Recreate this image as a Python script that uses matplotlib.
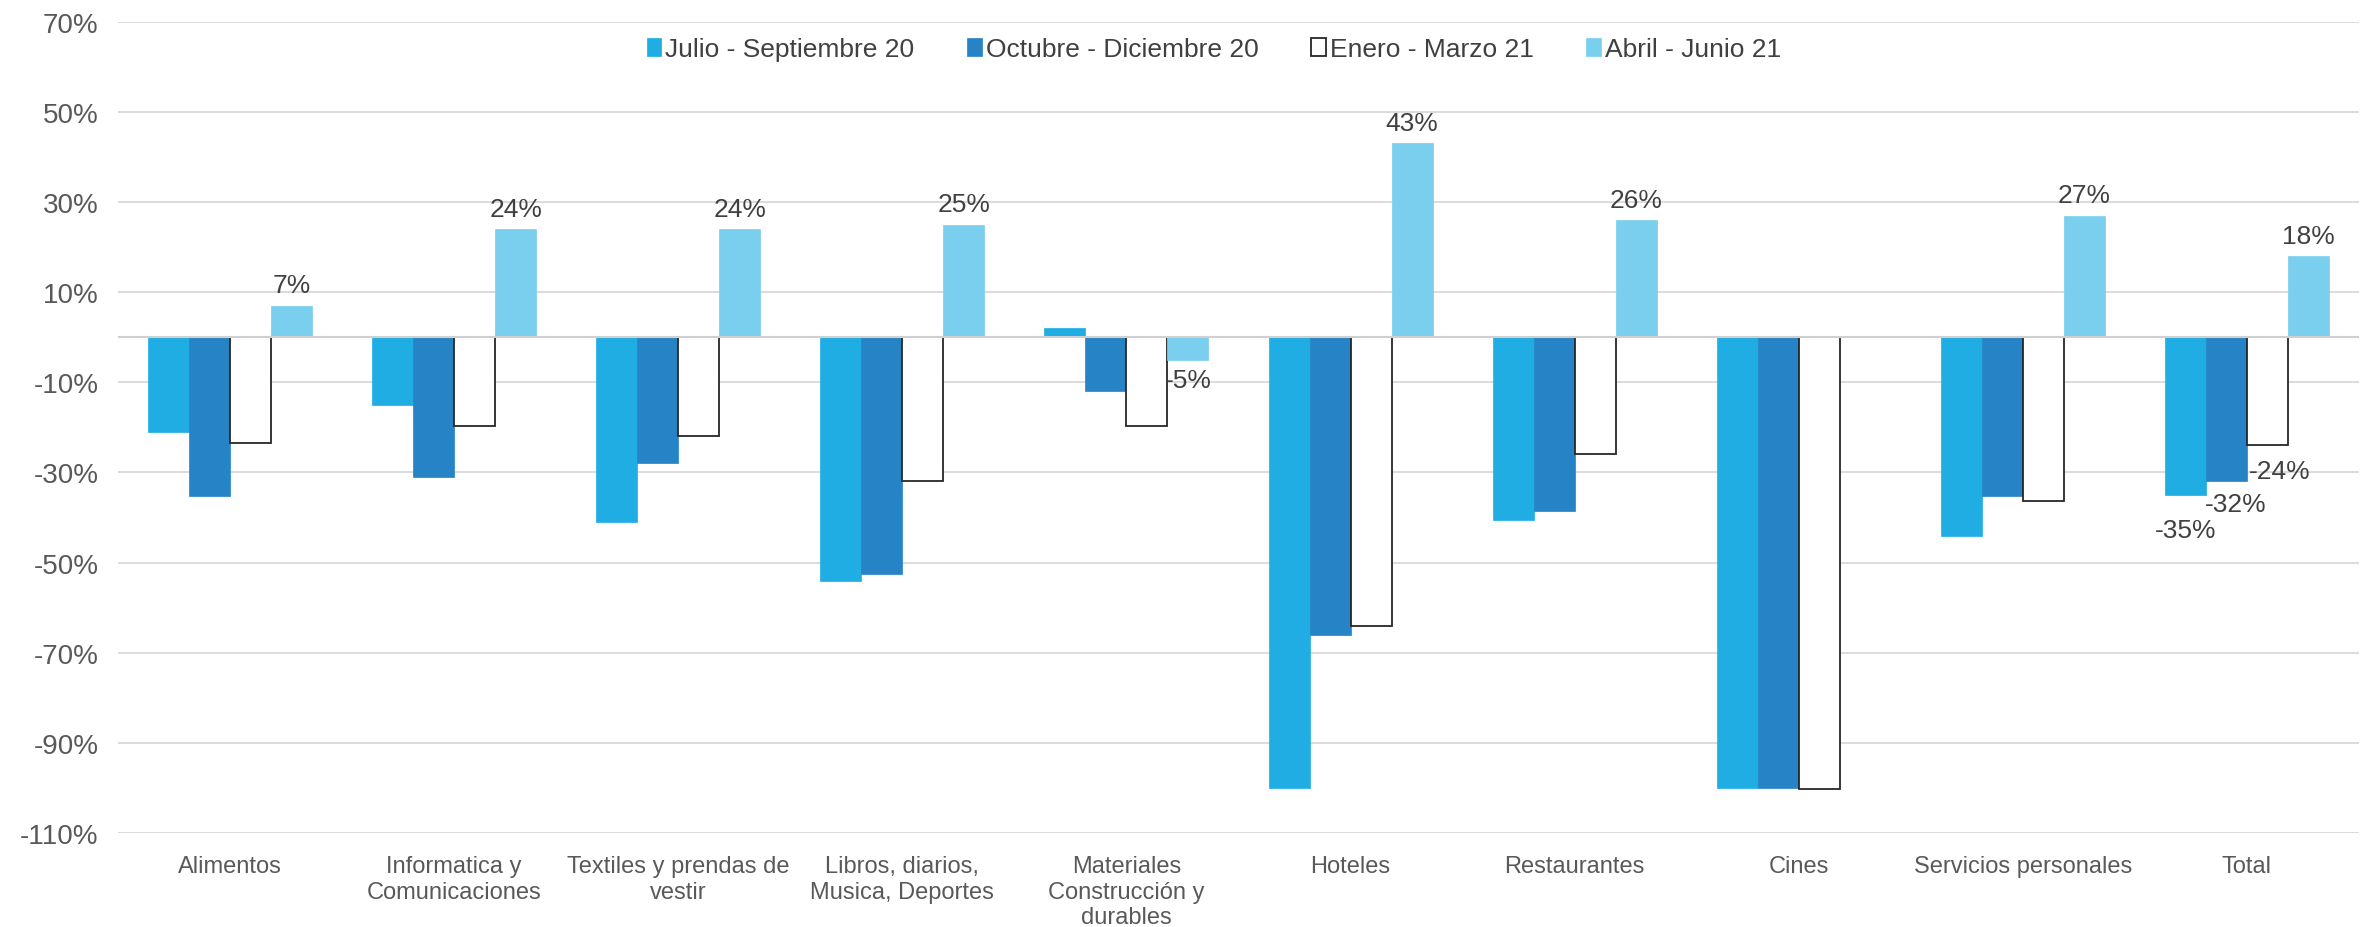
import matplotlib
matplotlib.use("Agg")
from matplotlib import pyplot as plt
import numpy as np

plt.rcParams['font.family'] = ['Liberation Sans', 'DejaVu Sans']

# Categorias
categorias = ['Alimentos', 'Informatica y\nComunicaciones', 'Textiles y prendas de\nvestir',
              'Libros, diarios,\nMusica, Deportes', 'Materiales\nConstrucción y\ndurables',
              'Hoteles', 'Restaurantes', 'Cines', 'Servicios personales', 'Total']

# Variacion (%) por trimestre
julio_sep_20 = [-21, -15, -41, -54, 2, -100, -40.5, -100, -44, -35]
oct_dic_20 = [-35.3, -31, -28, -52.5, -12, -66, -38.5, -100, -35.3, -32]
ene_mar_21 = [-23.5, -19.8, -22, -32, -19.8, -64, -25.8, -100.3, -36.3, -24]
abr_jun_21 = [7, 24, 24, 25, -5, 43, 26, np.nan, 27, 18]

series = ['Julio - Septiembre 20', 'Octubre - Diciembre 20', 'Enero - Marzo 21', 'Abril - Junio 21']
valores = [julio_sep_20, oct_dic_20, ene_mar_21, abr_jun_21]
cores = ['#1FADE4', '#2683C6', 'white', '#7ACFEF']
bordas = ['#1FADE4', '#2683C6', '#262626', '#7ACFEF']

# deslocamento dos rotulos do Total (pixels)
desloc_total = [(0, -35), (9, -23), (12, -26)]

fig, ax = plt.subplots(figsize=(23.74, 9.28), dpi=100)
fig.subplots_adjust(left=0.0497, right=0.9937, top=0.9755, bottom=0.1013)

x = np.arange(len(categorias))
largura = 0.183
for i, (nome, vals) in enumerate(zip(series, valores)):
    pos = x + (i - 1.5) * largura
    barras = ax.bar(pos, vals, largura, color=cores[i], edgecolor=bordas[i],
                    linewidth=1.3 if i == 2 else 0.5, label=nome, zorder=3)
    if i == 3:
        rotulos = ['' if np.isnan(v) else f'{v:.0f}%' for v in vals]
        ax.bar_label(barras, labels=rotulos, padding=6, fontsize=19, color='#404040')
    else:
        ax.annotate(f'{vals[-1]:.0f}%', (pos[-1], vals[-1]), xytext=desloc_total[i],
                    textcoords='offset pixels', ha='center', va='center',
                    fontsize=19, color='#404040')

ax.set_xlim(-0.5, len(categorias) - 0.5)
ax.set_ylim(-110, 70)
ax.set_yticks(np.arange(-110, 71, 20))
ax.set_yticklabels([f'{t}%' for t in range(-110, 71, 20)])
ax.set_xticks(x)
ax.set_xticklabels(categorias, fontsize=17, color='#595959')
ax.tick_params(axis='y', labelsize=20, labelcolor='#595959', length=0, pad=14)
ax.tick_params(axis='x', length=0, pad=16)

ax.grid(axis='y', color='#D9D9D9', linewidth=1.3, zorder=0)
ax.axhline(0, color='#D0D0D0', linewidth=1.5, zorder=4)
for s in ax.spines.values():
    s.set_visible(False)

ax.legend(loc='center', bbox_to_anchor=(0.489, 0.966), ncol=4, frameon=False,
          fontsize=19, handlelength=0.55, handleheight=0.7, handletextpad=0.15,
          columnspacing=2.0, labelcolor='#404040')

plt.savefig('out.png', dpi=100)
